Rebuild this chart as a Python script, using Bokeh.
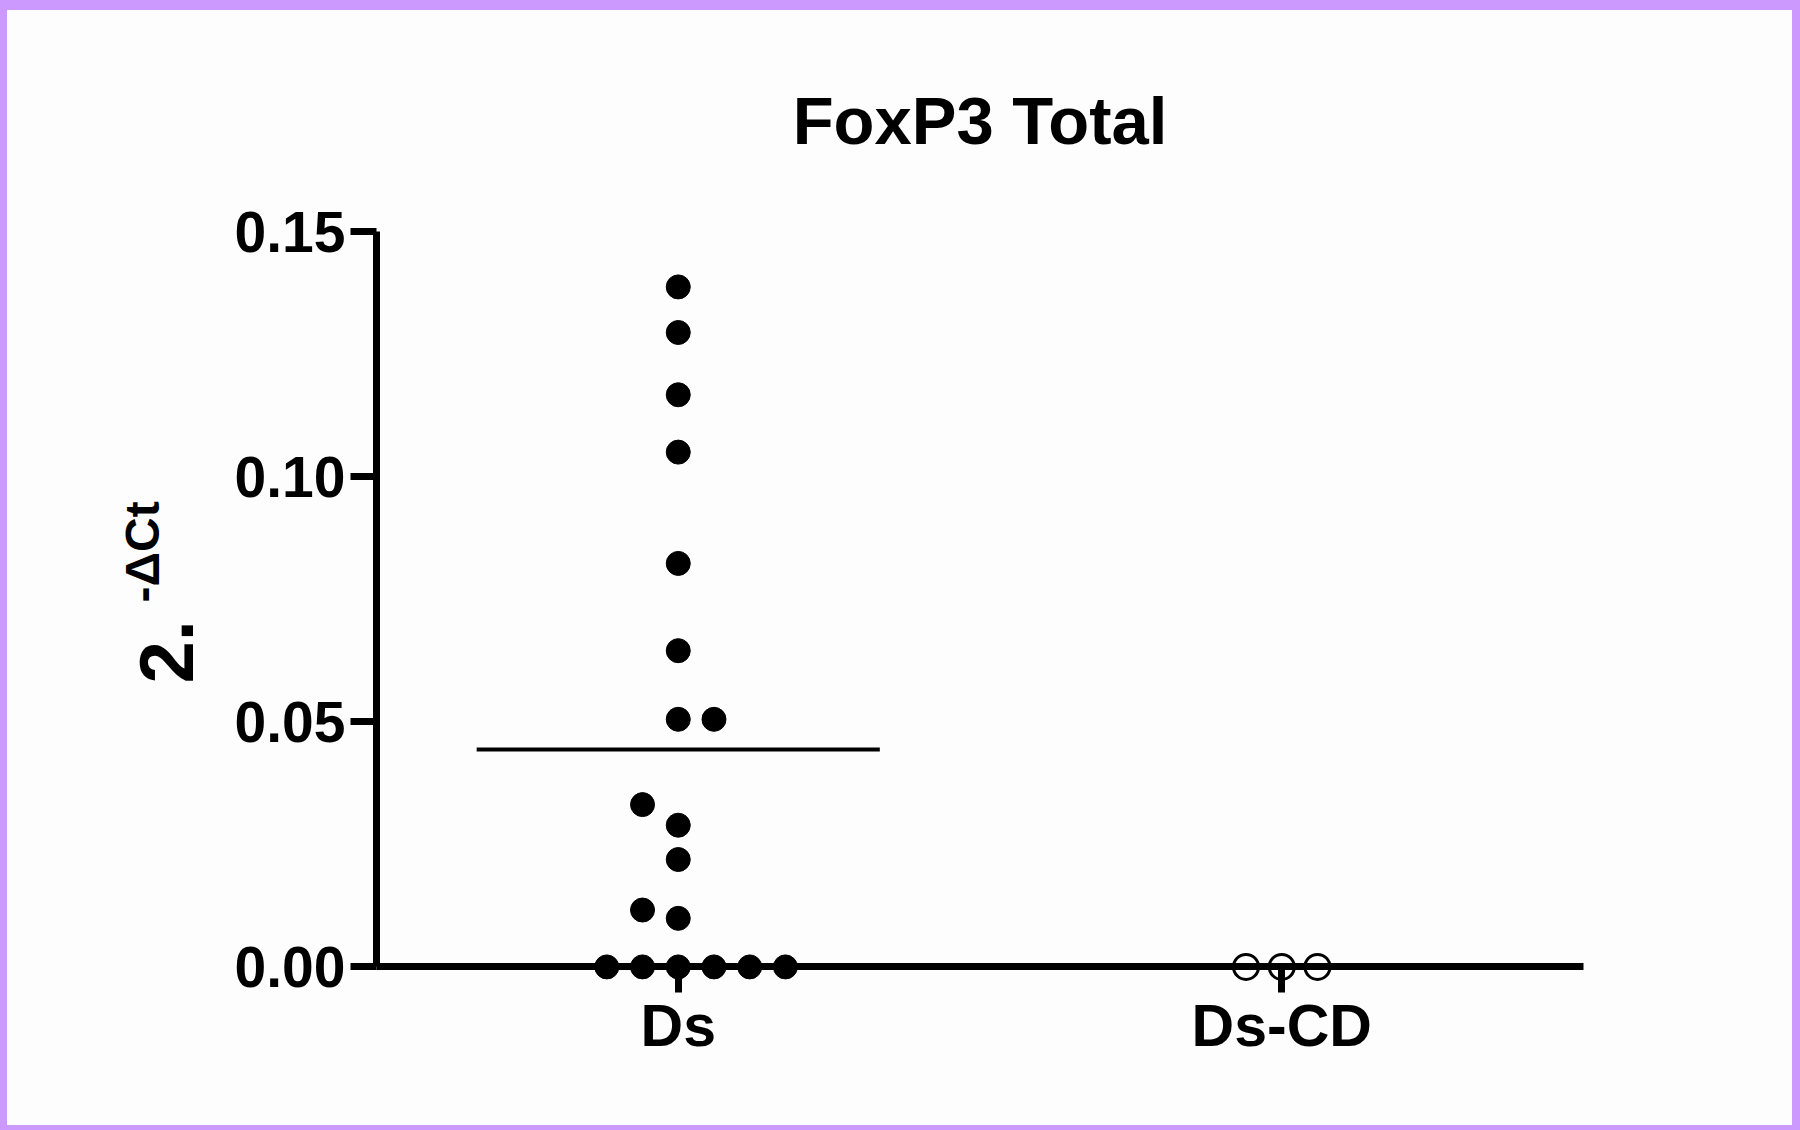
import numpy as np
from math import pi
from bokeh.plotting import figure
from bokeh.models import FixedTicker, PrintfTickFormatter, Label, ColumnDataSource, Range1d
from bokeh.embed import file_html
from bokeh.resources import INLINE

# ---- data ----
groups = ["Ds", "Ds-CD"]
group_pos = [1, 2]
ds_values = [0.1387, 0.1294, 0.1167, 0.1050, 0.0823, 0.0645, 0.0505, 0.0505,
             0.0331, 0.0289, 0.0219, 0.0116, 0.0099, 0.0, 0.0, 0.0, 0.0, 0.0, 0.0]
ds_slots = [0, 0, 0, 0, 0, 0, 0, 1, -1, 0, 0, -1, 0, -2, -1, 0, 1, 2, 3]
dscd_values = [0.0, 0.0, 0.0]
dscd_slots = [-1, 0, 1]
y_ticks = [0.0, 0.05, 0.10, 0.15]
title_text = "FoxP3 Total"
ylabel_main = "2."
ylabel_sup = "-ΔCt"

# ---- layout / style ----
W, H = 1800, 1130
X_AX = (0.5, 2.5)          # x-axis extent (data)
Y_AX = (0.0, 0.15)         # y-axis extent (data)
X_PX = (376, 1583)         # where the x-axis extent sits on the page (px)
Y_PX = (966.4, 231.0)      # where the y-axis extent sits on the page (px, from top)
SLOT = 0.0592              # horizontal spacing of stacked points (x units)
HALF_MEAN = 0.334          # half width of mean line (x units)
FONT = "Liberation Sans"
BG = "#fdfdfd"
PURPLE = "#cc99ff"

# data ranges so that the frame covers the whole canvas
sx = (X_PX[1] - X_PX[0]) / (X_AX[1] - X_AX[0])
sy = (Y_PX[0] - Y_PX[1]) / (Y_AX[1] - Y_AX[0])
x_start = X_AX[0] - X_PX[0] / sx
x_end = X_AX[0] + (W - X_PX[0]) / sx
y_start = Y_AX[0] - (H - Y_PX[0]) / sy
y_end = Y_AX[0] + Y_PX[0] / sy


def px_to_x(px):
    return X_AX[0] + (px - X_PX[0]) / sx


def px_to_y(py):
    return Y_AX[0] + (Y_PX[0] - py) / sy


p = figure(width=W, height=H, output_backend="svg", toolbar_location=None,
           x_range=Range1d(x_start, x_end), y_range=Range1d(y_start, y_end),
           min_border=0)
p.border_fill_color = None
p.background_fill_color = None
p.outline_line_color = None
p.styles = {"background-color": BG,
            "box-shadow": f"inset 7px 0 0 0 {PURPLE}, inset -8px 0 0 0 {PURPLE}, "
                          f"inset 0 10px 0 0 {PURPLE}, inset 0 -5px 0 0 {PURPLE}"}
p.grid.visible = False

# axes (drawn at fixed data locations, so they take no panel space)
for ax in (p.xaxis[0], p.yaxis[0]):
    ax.axis_line_width = 7
    ax.axis_line_color = "black"
    ax.major_tick_line_width = 7
    ax.major_tick_line_color = "black"
    ax.major_tick_out = 26
    ax.major_tick_in = 0
    ax.minor_tick_line_color = None
    ax.major_label_text_font = FONT
    ax.major_label_text_font_style = "bold"
    ax.major_label_text_color = "black"

p.yaxis.major_label_text_font_size = "57px"
p.yaxis.ticker = FixedTicker(ticks=y_ticks)
p.yaxis.formatter = PrintfTickFormatter(format="%.2f")
p.yaxis.bounds = Y_AX
p.yaxis.fixed_location = X_AX[0]
p.yaxis.major_label_standoff = 5

p.xaxis.major_label_text_font_size = "59px"
p.xaxis.ticker = FixedTicker(ticks=group_pos)
p.xaxis.major_label_overrides = {gp: g for gp, g in zip(group_pos, groups)}
p.xaxis.bounds = X_AX
p.xaxis.fixed_location = Y_AX[0]
p.xaxis.major_label_standoff = 0

# mean lines
means = [float(np.mean(ds_values)), float(np.mean(dscd_values))]
p.segment(x0=[g - HALF_MEAN for g in group_pos], x1=[g + HALF_MEAN for g in group_pos],
          y0=means, y1=means, line_color="black", line_width=4)

# points
ds_src = ColumnDataSource(dict(x=[group_pos[0] + s * SLOT for s in ds_slots], y=ds_values))
p.scatter("x", "y", source=ds_src, marker="circle", size=24,
          fill_color="black", line_color="black")
cd_src = ColumnDataSource(dict(x=[group_pos[1] + s * SLOT for s in dscd_slots], y=dscd_values))
p.scatter("x", "y", source=cd_src, marker="circle", size=25,
          fill_color=None, line_color="black", line_width=3)

# title
p.add_layout(Label(x=sum(X_AX) / 2, y=px_to_y(120), text=title_text,
                   text_font=FONT, text_font_size="67px", text_font_style="bold",
                   text_align="center", text_baseline="alphabetic", text_color="black"))

# y axis title 2^-ΔCt
p.add_layout(Label(x=px_to_x(166), y=px_to_y(683), text=ylabel_main, angle=pi / 2,
                   text_font=FONT, text_font_size="76px", text_font_style="bold",
                   text_align="left", text_baseline="alphabetic", text_color="black"))
p.add_layout(Label(x=px_to_x(142), y=px_to_y(602), text=ylabel_sup, angle=pi / 2,
                   text_font=FONT, text_font_size="48px", text_font_style="bold",
                   text_align="left", text_baseline="alphabetic", text_color="black"))

open("out.html", "w").write(file_html(p, INLINE))
